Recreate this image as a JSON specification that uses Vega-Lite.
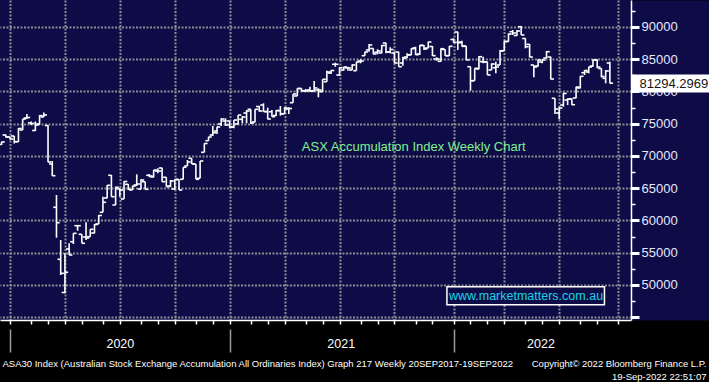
{
  "$schema": "https://vega.github.io/schema/vega-lite/v6.json",
  "width": 631,
  "height": 320,
  "autosize": {"type": "none"},
  "padding": {"left": 0, "top": 0, "right": 78, "bottom": 62},
  "background": "#000000",
  "config": {
    "view": {"fill": "#0e0c47", "stroke": null},
    "axis": {"labelFont": "Liberation Sans", "titleFont": "Liberation Sans"}
  },
  "data": {"values": [
    {"date":"2019-12-13","open":71783,"high":72217,"low":71705,"close":72170},
    {"date":"2019-12-20","open":73256,"high":73333,"low":72868,"close":72946},
    {"date":"2019-12-27","open":72946,"high":73023,"low":72558,"close":72635},
    {"date":"2020-01-03","open":73101,"high":73101,"low":71938,"close":72217},
    {"date":"2020-01-10","open":72217,"high":74341,"low":72170,"close":74263},
    {"date":"2020-01-17","open":74031,"high":75736,"low":74031,"close":75736},
    {"date":"2020-01-24","open":75891,"high":76511,"low":75736,"close":75969},
    {"date":"2020-01-31","open":75116,"high":75349,"low":74806,"close":75039},
    {"date":"2020-02-07","open":73953,"high":75349,"low":73876,"close":74806},
    {"date":"2020-02-14","open":74961,"high":76356,"low":74884,"close":76248},
    {"date":"2020-02-21","open":76046,"high":76744,"low":76046,"close":76356},
    {"date":"2020-02-28","open":74728,"high":74806,"low":69023,"close":69070},
    {"date":"2020-03-06","open":68759,"high":69225,"low":66899,"close":66945},
    {"date":"2020-03-13","open":62046,"high":63953,"low":57333,"close":59659},
    {"date":"2020-03-20","open":53984,"high":56976,"low":51550,"close":51814},
    {"date":"2020-03-27","open":48837,"high":54914,"low":48713,"close":51969},
    {"date":"2020-04-03","open":55581,"high":56465,"low":54651,"close":54651},
    {"date":"2020-04-10","open":56713,"high":58015,"low":56356,"close":58015},
    {"date":"2020-04-17","open":59193,"high":59302,"low":58418,"close":59193},
    {"date":"2020-04-24","open":57860,"high":57860,"low":56465,"close":56465},
    {"date":"2020-05-01","open":57442,"high":59721,"low":56976,"close":57286},
    {"date":"2020-05-08","open":57488,"high":58635,"low":57488,"close":58635},
    {"date":"2020-05-15","open":58062,"high":59457,"low":58015,"close":59380},
    {"date":"2020-05-22","open":59457,"high":60852,"low":59457,"close":60775},
    {"date":"2020-05-29","open":61271,"high":63690,"low":61271,"close":62821},
    {"date":"2020-06-05","open":63488,"high":65504,"low":63442,"close":65457},
    {"date":"2020-06-12","open":67007,"high":67054,"low":63690,"close":63690},
    {"date":"2020-06-19","open":62403,"high":65240,"low":62403,"close":65147},
    {"date":"2020-06-26","open":64883,"high":64992,"low":63690,"close":64728},
    {"date":"2020-07-03","open":63333,"high":66124,"low":63333,"close":66046},
    {"date":"2020-07-10","open":65612,"high":65659,"low":64728,"close":64837},
    {"date":"2020-07-17","open":64728,"high":65395,"low":64728,"close":65349},
    {"date":"2020-07-24","open":65504,"high":67163,"low":65349,"close":65659},
    {"date":"2020-07-31","open":64883,"high":66387,"low":64837,"close":66279},
    {"date":"2020-08-07","open":66015,"high":66015,"low":64837,"close":64837},
    {"date":"2020-08-14","open":67007,"high":67209,"low":66697,"close":66899},
    {"date":"2020-08-21","open":66744,"high":67829,"low":66697,"close":67829},
    {"date":"2020-08-28","open":67674,"high":68093,"low":67318,"close":67674},
    {"date":"2020-09-04","open":68139,"high":68186,"low":66015,"close":66015},
    {"date":"2020-09-11","open":66697,"high":66697,"low":65240,"close":65240},
    {"date":"2020-09-18","open":65349,"high":66279,"low":65194,"close":66124},
    {"date":"2020-09-25","open":64883,"high":66387,"low":64728,"close":66356},
    {"date":"2020-10-02","open":66356,"high":66387,"low":64728,"close":64728},
    {"date":"2020-10-09","open":66387,"high":68248,"low":66387,"close":68248},
    {"date":"2020-10-16","open":68449,"high":69380,"low":68449,"close":69070},
    {"date":"2020-10-23","open":69643,"high":69643,"low":68759,"close":68759},
    {"date":"2020-10-30","open":68759,"high":68759,"low":66387,"close":66387},
    {"date":"2020-11-06","open":66542,"high":69225,"low":66542,"close":69225},
    {"date":"2020-11-13","open":70573,"high":71969,"low":70573,"close":71938},
    {"date":"2020-11-20","open":72372,"high":72992,"low":72372,"close":72946},
    {"date":"2020-11-27","open":73256,"high":74651,"low":73101,"close":73612},
    {"date":"2020-12-04","open":73876,"high":74542,"low":73411,"close":74496},
    {"date":"2020-12-11","open":74961,"high":75845,"low":74651,"close":75736},
    {"date":"2020-12-18","open":75426,"high":75845,"low":74698,"close":74806},
    {"date":"2020-12-25","open":75426,"high":75426,"low":74294,"close":74496},
    {"date":"2021-01-01","open":74496,"high":75581,"low":74294,"close":75581},
    {"date":"2021-01-08","open":74961,"high":76356,"low":74915,"close":76356},
    {"date":"2021-01-15","open":75690,"high":76201,"low":75070,"close":76046},
    {"date":"2021-01-22","open":76666,"high":77132,"low":75070,"close":76977},
    {"date":"2021-01-29","open":77240,"high":77240,"low":74961,"close":75116},
    {"date":"2021-02-05","open":75271,"high":77240,"low":75225,"close":77240},
    {"date":"2021-02-12","open":77675,"high":77752,"low":76868,"close":76977},
    {"date":"2021-02-19","open":77907,"high":78170,"low":76868,"close":76899},
    {"date":"2021-02-26","open":76868,"high":77488,"low":75690,"close":75736},
    {"date":"2021-03-05","open":76868,"high":77132,"low":76093,"close":76093},
    {"date":"2021-03-12","open":76279,"high":77132,"low":76201,"close":77054},
    {"date":"2021-03-19","open":77023,"high":77752,"low":76248,"close":76511},
    {"date":"2021-03-26","open":76558,"high":77550,"low":76511,"close":77442},
    {"date":"2021-04-02","open":77287,"high":77550,"low":76511,"close":77364},
    {"date":"2021-04-09","open":78263,"high":79612,"low":78263,"close":79612},
    {"date":"2021-04-16","open":79302,"high":80496,"low":79302,"close":80465},
    {"date":"2021-04-23","open":80465,"high":80496,"low":79969,"close":80124},
    {"date":"2021-04-30","open":80077,"high":80387,"low":79969,"close":80077},
    {"date":"2021-05-07","open":80232,"high":80744,"low":79969,"close":80077},
    {"date":"2021-05-14","open":80077,"high":81628,"low":79969,"close":80542},
    {"date":"2021-05-21","open":80232,"high":80496,"low":79101,"close":80232},
    {"date":"2021-05-28","open":79969,"high":81891,"low":79969,"close":81891},
    {"date":"2021-06-04","open":81519,"high":83225,"low":81519,"close":83023},
    {"date":"2021-06-11","open":82868,"high":83333,"low":82713,"close":83256},
    {"date":"2021-06-18","open":84217,"high":84465,"low":83845,"close":84217},
    {"date":"2021-06-25","open":82558,"high":83752,"low":82403,"close":83690},
    {"date":"2021-07-02","open":83333,"high":83845,"low":83225,"close":83798},
    {"date":"2021-07-09","open":83643,"high":83845,"low":83225,"close":83643},
    {"date":"2021-07-16","open":83333,"high":84217,"low":83333,"close":84108},
    {"date":"2021-07-23","open":83225,"high":84620,"low":83225,"close":84574},
    {"date":"2021-07-30","open":84729,"high":84992,"low":84372,"close":84729},
    {"date":"2021-08-06","open":85550,"high":86170,"low":85550,"close":86124},
    {"date":"2021-08-13","open":86434,"high":87364,"low":86170,"close":87209},
    {"date":"2021-08-20","open":86667,"high":86698,"low":85767,"close":85814},
    {"date":"2021-08-27","open":86077,"high":86543,"low":85767,"close":86279},
    {"date":"2021-09-03","open":85969,"high":87209,"low":85922,"close":87132},
    {"date":"2021-09-10","open":87519,"high":87566,"low":85922,"close":86124},
    {"date":"2021-09-17","open":86124,"high":86853,"low":85922,"close":86512},
    {"date":"2021-09-24","open":85969,"high":86170,"low":84372,"close":84418},
    {"date":"2021-10-01","open":86124,"high":86170,"low":83845,"close":83845},
    {"date":"2021-10-08","open":84418,"high":85395,"low":84000,"close":85147},
    {"date":"2021-10-15","open":85349,"high":85922,"low":85147,"close":85705},
    {"date":"2021-10-22","open":85659,"high":86698,"low":85659,"close":86636},
    {"date":"2021-10-29","open":86744,"high":86946,"low":85659,"close":85705},
    {"date":"2021-11-05","open":85814,"high":87209,"low":85659,"close":87163},
    {"date":"2021-11-12","open":87132,"high":87209,"low":86434,"close":86589},
    {"date":"2021-11-19","open":86744,"high":87721,"low":86698,"close":87674},
    {"date":"2021-11-26","open":86977,"high":87054,"low":85504,"close":85550},
    {"date":"2021-12-03","open":85039,"high":85302,"low":84775,"close":85039},
    {"date":"2021-12-10","open":84682,"high":86698,"low":84620,"close":86636},
    {"date":"2021-12-17","open":86512,"high":86543,"low":85504,"close":85550},
    {"date":"2021-12-24","open":85550,"high":87054,"low":85504,"close":87008},
    {"date":"2021-12-31","open":88062,"high":88248,"low":87566,"close":87628},
    {"date":"2022-01-07","open":89225,"high":89271,"low":86434,"close":87566},
    {"date":"2022-01-14","open":87674,"high":87876,"low":86946,"close":87000},
    {"date":"2022-01-21","open":87054,"high":87054,"low":84884,"close":84900},
    {"date":"2022-01-28","open":83845,"high":83845,"low":80124,"close":81674},
    {"date":"2022-02-04","open":81674,"high":83597,"low":81674,"close":83597},
    {"date":"2022-02-11","open":83489,"high":85504,"low":83442,"close":85395},
    {"date":"2022-02-18","open":84620,"high":85395,"low":84372,"close":84574},
    {"date":"2022-02-25","open":84574,"high":84620,"low":82558,"close":82558},
    {"date":"2022-03-04","open":83333,"high":84372,"low":83333,"close":84263},
    {"date":"2022-03-11","open":83690,"high":84620,"low":82822,"close":83798},
    {"date":"2022-03-18","open":84108,"high":86434,"low":84108,"close":86279},
    {"date":"2022-03-25","open":86325,"high":87876,"low":86325,"close":87752},
    {"date":"2022-04-01","open":87752,"high":89023,"low":87721,"close":88915},
    {"date":"2022-04-08","open":89271,"high":89535,"low":88760,"close":89070},
    {"date":"2022-04-15","open":88682,"high":89535,"low":88605,"close":89380},
    {"date":"2022-04-22","open":90046,"high":90155,"low":88760,"close":88760},
    {"date":"2022-04-29","open":88217,"high":88248,"low":86698,"close":86946},
    {"date":"2022-05-06","open":87318,"high":87364,"low":85302,"close":85349},
    {"date":"2022-05-13","open":84108,"high":84108,"low":82201,"close":83798},
    {"date":"2022-05-20","open":83953,"high":84992,"low":83845,"close":84884},
    {"date":"2022-05-27","open":84574,"high":84992,"low":84372,"close":84884},
    {"date":"2022-06-03","open":85194,"high":86279,"low":85147,"close":86170},
    {"date":"2022-06-10","open":85349,"high":85395,"low":81891,"close":81938},
    {"date":"2022-06-17","open":78946,"high":78946,"low":76511,"close":77287},
    {"date":"2022-06-24","open":76666,"high":77643,"low":75690,"close":77442},
    {"date":"2022-07-01","open":77907,"high":79814,"low":77643,"close":79690},
    {"date":"2022-07-08","open":78682,"high":78946,"low":77907,"close":78837},
    {"date":"2022-07-15","open":78837,"high":78946,"low":77907,"close":77953},
    {"date":"2022-07-22","open":79001,"high":80744,"low":78946,"close":80697},
    {"date":"2022-07-29","open":80542,"high":82403,"low":80496,"close":82357},
    {"date":"2022-08-05","open":82915,"high":83333,"low":82558,"close":83256},
    {"date":"2022-08-12","open":83023,"high":83845,"low":82822,"close":83798},
    {"date":"2022-08-19","open":83953,"high":84992,"low":83845,"close":84884},
    {"date":"2022-08-26","open":84884,"high":84992,"low":83597,"close":83798},
    {"date":"2022-09-02","open":83566,"high":83597,"low":82201,"close":82325},
    {"date":"2022-09-09","open":82046,"high":83333,"low":81271,"close":83178},
    {"date":"2022-09-16","open":84418,"high":84620,"low":81240,"close":81294.2969}
  ]},
  "layer": [
    {
      "mark": {"type": "rule", "color": "#ffffff", "strokeWidth": 1.6},
      "encoding": {
        "x": {"field": "date", "type": "temporal",
          "scale": {"type": "utc", "domain": [{"year": 2019, "month": 12, "date": 10, "hours": 10, "utc": true}, {"year": 2022, "month": 10, "date": 21, "utc": true}]},
          "axis": {"orient": "bottom", "values": [
            {"year": 2019, "month": 12, "date": 27, "utc": true},
            {"year": 2020, "month": 3, "date": 27, "utc": true},
            {"year": 2020, "month": 6, "date": 26, "utc": true},
            {"year": 2020, "month": 9, "date": 25, "utc": true},
            {"year": 2020, "month": 12, "date": 25, "utc": true},
            {"year": 2021, "month": 3, "date": 26, "utc": true},
            {"year": 2021, "month": 6, "date": 25, "utc": true},
            {"year": 2021, "month": 9, "date": 24, "utc": true},
            {"year": 2021, "month": 12, "date": 31, "utc": true},
            {"year": 2022, "month": 3, "date": 25, "utc": true},
            {"year": 2022, "month": 6, "date": 24, "utc": true},
            {"year": 2022, "month": 9, "date": 30, "utc": true}],
            "grid": true, "gridColor": "#8c8c94", "gridDash": [2, 1.5], "gridWidth": 2,
            "ticks": false, "labels": false, "domain": false, "title": null}},
        "y": {"field": "low", "type": "quantitative",
          "scale": {"domain": [44573, 94186], "nice": false, "zero": false},
          "axis": {"orient": "right", "domain": true, "domainColor": "#0e0c47", "domainWidth": 80, "offset": 40,
            "ticks": false, "labels": false, "grid": false, "title": null}},
        "y2": {"field": "high"}
      }
    },
    {
      "mark": {"type": "rule", "color": "#ffffff", "strokeWidth": 1.6, "x2Offset": -3.2},
      "encoding": {
        "x": {"field": "date", "type": "temporal",
          "scale": {"type": "utc", "domain": [{"year": 2019, "month": 12, "date": 10, "hours": 10, "utc": true}, {"year": 2022, "month": 10, "date": 21, "utc": true}]},
          "axis": {"orient": "bottom", "values": [
            {"year": 2019, "month": 12, "date": 27, "utc": true},
            {"year": 2020, "month": 1, "date": 31, "utc": true},
            {"year": 2020, "month": 2, "date": 28, "utc": true},
            {"year": 2020, "month": 3, "date": 27, "utc": true},
            {"year": 2020, "month": 4, "date": 24, "utc": true},
            {"year": 2020, "month": 5, "date": 29, "utc": true},
            {"year": 2020, "month": 6, "date": 26, "utc": true},
            {"year": 2020, "month": 7, "date": 31, "utc": true},
            {"year": 2020, "month": 8, "date": 28, "utc": true},
            {"year": 2020, "month": 9, "date": 25, "utc": true},
            {"year": 2020, "month": 10, "date": 30, "utc": true},
            {"year": 2020, "month": 11, "date": 27, "utc": true},
            {"year": 2020, "month": 12, "date": 25, "utc": true},
            {"year": 2021, "month": 1, "date": 29, "utc": true},
            {"year": 2021, "month": 2, "date": 26, "utc": true},
            {"year": 2021, "month": 3, "date": 26, "utc": true},
            {"year": 2021, "month": 4, "date": 30, "utc": true},
            {"year": 2021, "month": 5, "date": 28, "utc": true},
            {"year": 2021, "month": 6, "date": 25, "utc": true},
            {"year": 2021, "month": 7, "date": 30, "utc": true},
            {"year": 2021, "month": 8, "date": 27, "utc": true},
            {"year": 2021, "month": 9, "date": 24, "utc": true},
            {"year": 2021, "month": 10, "date": 29, "utc": true},
            {"year": 2021, "month": 11, "date": 26, "utc": true},
            {"year": 2021, "month": 12, "date": 31, "utc": true},
            {"year": 2022, "month": 1, "date": 28, "utc": true},
            {"year": 2022, "month": 2, "date": 25, "utc": true},
            {"year": 2022, "month": 3, "date": 25, "utc": true},
            {"year": 2022, "month": 4, "date": 29, "utc": true},
            {"year": 2022, "month": 5, "date": 27, "utc": true},
            {"year": 2022, "month": 6, "date": 24, "utc": true},
            {"year": 2022, "month": 7, "date": 29, "utc": true},
            {"year": 2022, "month": 8, "date": 26, "utc": true},
            {"year": 2022, "month": 9, "date": 30, "utc": true}],
            "domain": true, "domainColor": "#ffffff", "domainWidth": 1.5,
            "ticks": true, "tickColor": "#ffffff", "tickSize": 4, "tickWidth": 1.5,
            "labels": false, "grid": false, "title": null}},
        "x2": {"field": "date"},
        "y": {"field": "open", "type": "quantitative",
          "scale": {"domain": [44573, 94186], "nice": false, "zero": false},
          "axis": {"orient": "right", "values": [45000, 50000, 55000, 60000, 65000, 70000, 75000, 80000, 85000, 90000],
            "format": "d", "labelExpr": "datum.value == 45000 ? '' : datum.label",
            "domain": true, "domainColor": "#ffffff", "domainWidth": 1.5,
            "ticks": true, "tickColor": "#ffffff", "tickSize": 8, "tickWidth": 3,
            "labels": true, "labelColor": "#e6e8ff", "labelFont": "Liberation Sans", "labelFontSize": 13,
            "labelPadding": 2, "labelBaseline": "middle", "labelOverlap": false,
            "grid": true, "gridColor": "#8c8c94", "gridDash": [2, 1.5], "gridWidth": 2, "title": null}}
      }
    },
    {
      "mark": {"type": "rule", "color": "#ffffff", "strokeWidth": 1.6, "x2Offset": 3.2},
      "encoding": {
        "x": {"field": "date", "type": "temporal",
          "scale": {"type": "utc", "domain": [{"year": 2019, "month": 12, "date": 10, "hours": 10, "utc": true}, {"year": 2022, "month": 10, "date": 21, "utc": true}]},
          "axis": {"orient": "bottom", "values": [
            {"year": 2019, "month": 12, "date": 27, "utc": true},
            {"year": 2020, "month": 12, "date": 25, "utc": true},
            {"year": 2021, "month": 12, "date": 31, "utc": true}],
            "domain": false, "ticks": true, "tickColor": "#9a9a9a", "tickSize": 23, "tickWidth": 1.5,
            "labels": false, "grid": false, "offset": 9,
            "title": "ASA30 Index (Australian Stock Exchange Accumulation All Ordinaries Index) Graph 217  Weekly 20SEP2017-19SEP2022",
            "titleFont": "Liberation Sans", "titleFontSize": 9.5, "titleFontWeight": "normal", "titleColor": "#ffffff",
            "titleAnchor": "start", "titleAlign": "left", "titleBaseline": "alphabetic", "titleX": 2, "titleY": 37}},
        "x2": {"field": "date"},
        "y": {"field": "close", "type": "quantitative",
          "scale": {"domain": [44573, 94186], "nice": false, "zero": false},
          "axis": {"orient": "right", "values": [47500, 52500, 57500, 62500, 67500, 72500, 77500, 82500, 87500, 92500],
            "domain": false, "ticks": true, "tickColor": "#ffffff", "tickSize": 4, "tickWidth": 1.5,
            "labels": false, "grid": false, "title": null}}
      }
    },
    {
      "data": {"values": [{"start": "2021-12-20", "end": "2022-09-07", "top": 49736, "bottom": 46946}]},
      "mark": {"type": "rect", "fill": "#0e0c47", "stroke": "#ffffff", "strokeWidth": 1.5},
      "encoding": {
        "x": {"field": "start", "type": "temporal",
          "scale": {"type": "utc", "domain": [{"year": 2019, "month": 12, "date": 10, "hours": 10, "utc": true}, {"year": 2022, "month": 10, "date": 21, "utc": true}]},
          "axis": {"orient": "bottom", "values": [
            {"year": 2020, "month": 6, "date": 26, "utc": true},
            {"year": 2021, "month": 6, "date": 27, "utc": true},
            {"year": 2022, "month": 5, "date": 24, "utc": true}],
            "format": "%Y", "ticks": false, "domain": false, "grid": false,
            "labelColor": "#ffffff", "labelFont": "Liberation Sans", "labelFontSize": 12.5,
            "labelPadding": 23, "labelBaseline": "middle", "labelFlush": false, "labelOverlap": false,
            "title": ["Copyright© 2022 Bloomberg Finance L.P.", "19-Sep-2022 22:51:07"],
            "titleFont": "Liberation Sans", "titleFontSize": 9.5, "titleFontWeight": "normal", "titleColor": "#ffffff",
            "titleAnchor": "end", "titleAlign": "right", "titleBaseline": "alphabetic",
            "titleX": 706, "titleY": 46, "titleLineHeight": 13}},
        "x2": {"field": "end"},
        "y": {"field": "top", "type": "quantitative",
          "scale": {"domain": [44573, 94186], "nice": false, "zero": false},
          "axis": {"orient": "right", "values": [81294.2969], "format": ".4f",
            "domain": false, "grid": false, "ticks": true, "tickColor": "#ffffff", "tickSize": 78, "tickWidth": 18,
            "labelColor": "#151515", "labelFont": "Liberation Sans", "labelFontSize": 13,
            "labelPadding": -70, "labelBaseline": "middle", "zindex": 1, "title": null}},
        "y2": {"field": "bottom"}
      }
    },
    {
      "data": {"values": [{"date": "2021-10-26", "value": 71442, "label": "ASX Accumulation Index Weekly Chart"}]},
      "mark": {"type": "text", "font": "Liberation Sans", "fontSize": 13, "color": "#80f090", "align": "center", "baseline": "middle"},
      "encoding": {
        "x": {"field": "date", "type": "temporal", "axis": null,
          "scale": {"type": "utc", "domain": [{"year": 2019, "month": 12, "date": 10, "hours": 10, "utc": true}, {"year": 2022, "month": 10, "date": 21, "utc": true}]}},
        "y": {"field": "value", "type": "quantitative", "axis": null,
          "scale": {"domain": [44573, 94186], "nice": false, "zero": false}},
        "text": {"field": "label"}
      }
    },
    {
      "data": {"values": [{"date": "2022-04-30", "value": 48294, "label": "www.marketmatters.com.au"}]},
      "mark": {"type": "text", "font": "Liberation Sans", "fontSize": 12.5, "color": "#1ad4e6", "align": "center", "baseline": "middle"},
      "encoding": {
        "x": {"field": "date", "type": "temporal", "axis": null,
          "scale": {"type": "utc", "domain": [{"year": 2019, "month": 12, "date": 10, "hours": 10, "utc": true}, {"year": 2022, "month": 10, "date": 21, "utc": true}]}},
        "y": {"field": "value", "type": "quantitative", "axis": null,
          "scale": {"domain": [44573, 94186], "nice": false, "zero": false}},
        "text": {"field": "label"}
      }
    }
  ],
  "resolve": {"axis": {"x": "independent", "y": "independent"}}
}
